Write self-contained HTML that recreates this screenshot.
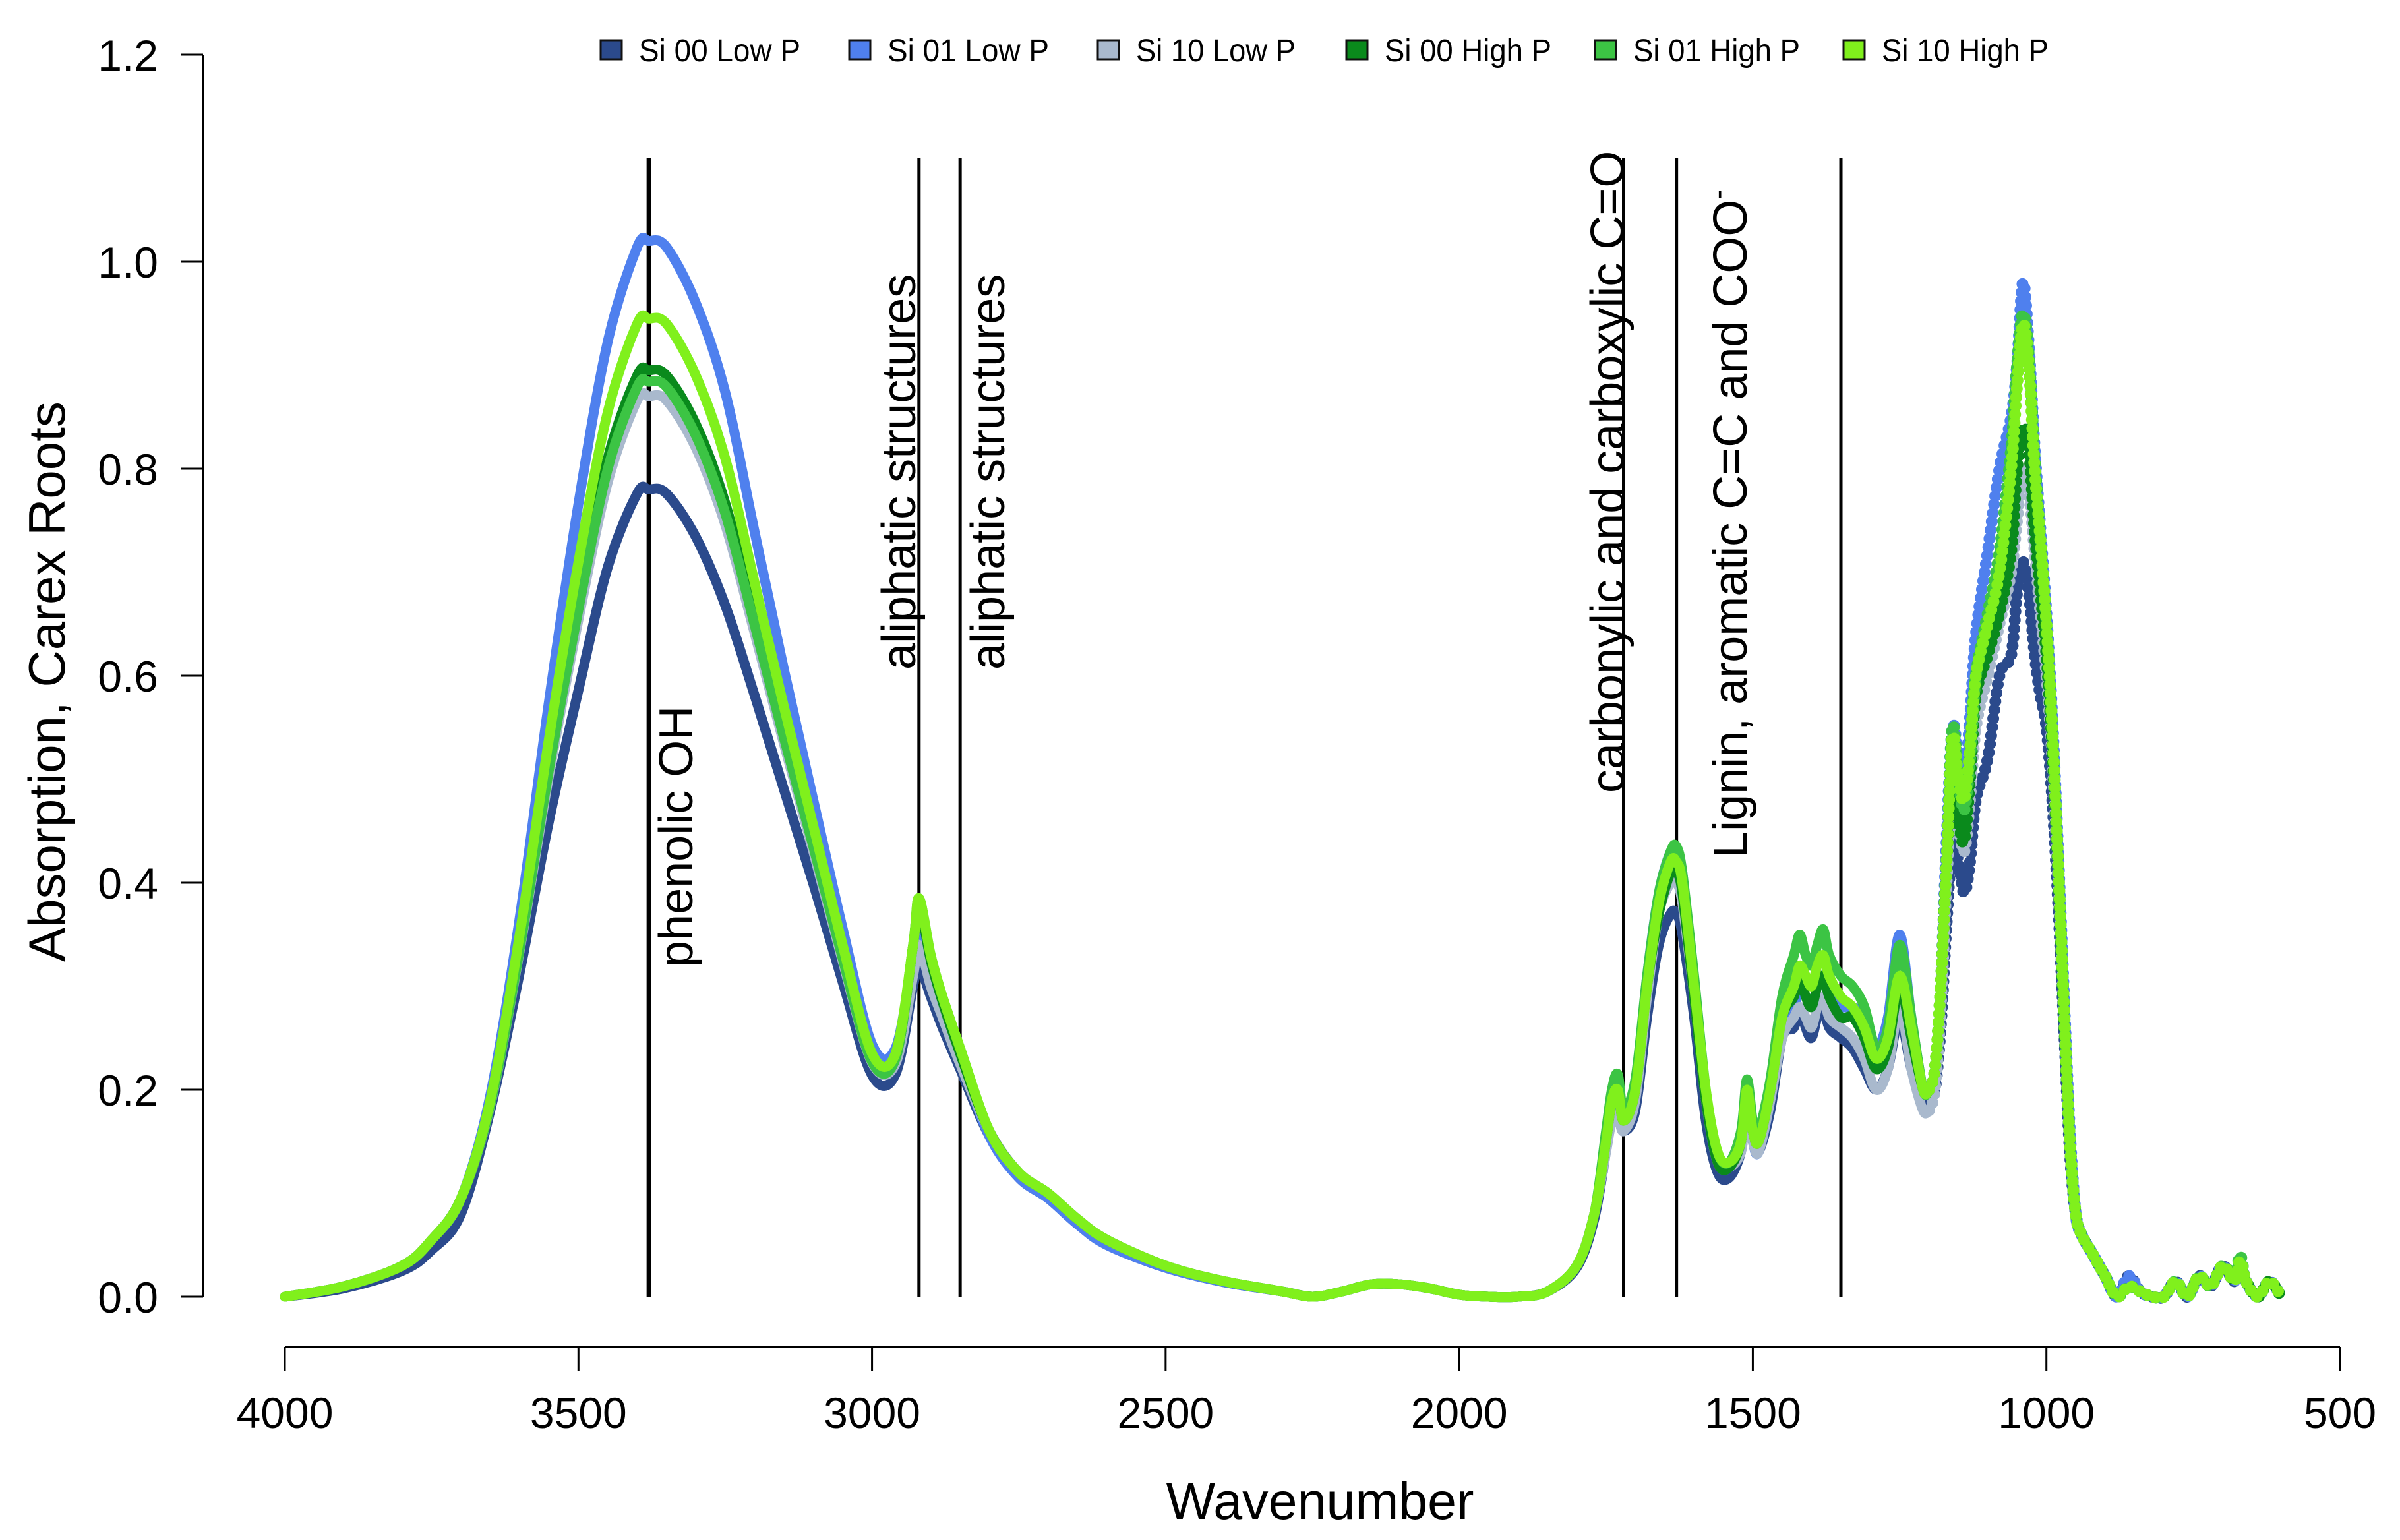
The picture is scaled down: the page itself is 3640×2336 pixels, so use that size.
<!DOCTYPE html>
<html><head><meta charset="utf-8"><style>
html,body{margin:0;padding:0;background:#fff;}
svg{display:block;font-family:"Liberation Sans",sans-serif;}
</style></head><body>
<svg id="chart" width="3640" height="2336" viewBox="0 0 3640 2336" xmlns="http://www.w3.org/2000/svg">
<g id="axes"></g>
<g id="annot-lines"></g>
<g id="series"></g>
<g id="annot-labels"></g>
<g id="legend"></g>
<text x="2002" y="2304" font-size="79" text-anchor="middle">Wavenumber</text>
<text x="0" y="0" font-size="78" text-anchor="middle" transform="translate(98,1034) rotate(-90)">Absorption, Carex Roots</text>
</svg>
<script>
const wavenumbers=[4000,3900,3800,3750,3700,3650,3600,3550,3500,3450,3400,3380,3350,3300,3250,3200,3150,3100,3050,3000,2960,2930,2920,2900,2880,2850,
2800,2750,2700,2650,2600,2500,2400,2300,2250,2200,2150,2100,2050,2000,1950,1900,1850,1800,
1770,1750,1740,1730,1720,1700,1680,1660,1640,1630,1620,1600,1580,1560,1540,1520,1510,1500,1490,1470,1450,1430,1420,1410,1400,1390,1380,1370,1350,1330,1310,1290,1270,1250,1230,1210,1200,
1190,1180,1170,1160,1150,1140,1130,1120,1100,1080,1060,1050,1040,1030,1020,1010,1000,990,980,970,960,950,940,920,900,880,860,840,820,800,780,760,740,720,700,680,670,660,640,620,600];
const si00Low=[0,.008,.025,.045,.08,.18,.313,.46,.586,.705,.776,.78,.776,.734,.668,.581,.49,.399,.304,.214,.215,.3,.32,.29,.26,.22,
.155,.115,.095,.07,.05,.028,.014,.005,0,.005,.012,.012,.008,.002,0,0,.005,.028,
.075,.14,.17,.175,.16,.18,.27,.34,.37,.37,.35,.27,.17,.12,.115,.14,.18,.15,.14,.18,.25,.26,.28,.26,.25,.27,.28,.26,.25,.24,.22,.2,.22,.27,.22,.19,.2,
.2,.26,.36,.44,.42,.39,.42,.48,.52,.6,.62,.68,.71,.68,.62,.58,.55,.48,.38,.26,.14,.08,.06,.04,.02,0,.02,.005,0,0,.015,0,.02,.01,.03,.015,.03,.015,0,.015,0];
const si01Low=[0,.01,.03,.055,.095,.195,.366,.576,.766,.923,1.014,1.02,1.014,.96,.874,.739,.606,.48,.356,.244,.24,.33,.35,.31,.27,.23,
.155,.115,.095,.07,.05,.028,.014,.005,0,.005,.012,.012,.008,.002,0,0,.005,.03,
.08,.15,.18,.19,.17,.2,.31,.39,.43,.43,.41,.3,.19,.13,.125,.15,.19,.15,.14,.19,.26,.28,.3,.29,.28,.3,.31,.29,.28,.28,.27,.24,.27,.35,.27,.2,.2,
.22,.3,.44,.55,.52,.5,.56,.64,.72,.8,.85,.9,.98,.92,.82,.74,.66,.56,.43,.29,.16,.08,.06,.04,.02,0,.02,.005,0,0,.015,0,.02,.01,.03,.015,.035,.015,0,.015,0];
const si10Low=[0,.01,.03,.055,.095,.185,.334,.504,.654,.787,.866,.87,.866,.82,.746,.641,.534,.43,.324,.226,.225,.31,.34,.3,.27,.225,
.16,.12,.1,.075,.055,.03,.015,.005,0,.005,.012,.012,.008,.002,0,0,.005,.03,
.08,.14,.17,.175,.16,.19,.29,.37,.4,.4,.38,.29,.19,.13,.125,.14,.18,.15,.14,.19,.25,.27,.28,.27,.26,.28,.29,.27,.26,.25,.23,.2,.22,.28,.22,.18,.18,
.2,.28,.4,.5,.46,.43,.48,.55,.6,.65,.7,.75,.8,.78,.72,.66,.6,.52,.4,.27,.15,.08,.06,.04,.02,0,.01,.005,0,0,.015,0,.02,.01,.03,.015,.03,.015,0,.015,0];
const si00High=[0,.01,.03,.055,.095,.187,.339,.516,.672,.81,.89,.895,.89,.843,.767,.657,.546,.438,.329,.229,.23,.34,.38,.325,.285,.235,
.16,.12,.1,.075,.055,.03,.015,.005,0,.005,.012,.012,.008,.002,0,0,.005,.03,
.08,.15,.19,.2,.17,.2,.3,.37,.41,.41,.39,.29,.19,.13,.125,.15,.2,.16,.15,.2,.27,.29,.31,.29,.28,.3,.31,.29,.27,.27,.25,.22,.24,.3,.25,.2,.2,
.22,.3,.42,.5,.46,.44,.5,.58,.62,.66,.72,.8,.84,.82,.74,.68,.62,.53,.41,.27,.15,.08,.06,.04,.02,0,.01,.005,0,0,.015,0,.02,.01,.03,.015,.03,.015,0,.015,0];
const si01High=[0,.01,.03,.055,.095,.186,.336,.51,.664,.8,.879,.884,.879,.832,.757,.649,.54,.435,.327,.227,.23,.34,.385,.33,.29,.24,
.16,.12,.1,.075,.055,.03,.015,.005,0,.005,.012,.012,.008,.002,0,0,.005,.03,
.08,.16,.2,.215,.18,.21,.31,.39,.43,.435,.41,.31,.2,.14,.13,.16,.21,.17,.16,.21,.29,.33,.35,.33,.32,.34,.355,.33,.31,.3,.28,.24,.26,.34,.27,.2,.2,
.22,.3,.42,.55,.5,.47,.52,.6,.66,.72,.82,.9,.95,.91,.81,.73,.65,.55,.42,.28,.15,.08,.06,.04,.02,0,.01,.005,0,0,.015,0,.02,.01,.03,.02,.04,.015,0,.015,0];
const si10High=[0,.01,.03,.055,.095,.19,.35,.54,.71,.855,.94,.945,.94,.89,.81,.69,.57,.455,.34,.235,.235,.34,.385,.33,.29,.24,
.16,.12,.1,.075,.055,.03,.015,.005,0,.005,.012,.012,.008,.002,0,0,.005,.03,
.08,.15,.19,.2,.17,.2,.3,.38,.42,.42,.4,.3,.2,.14,.13,.15,.2,.16,.15,.2,.27,.3,.32,.31,.3,.32,.33,.31,.29,.28,.26,.23,.25,.31,.26,.2,.2,
.22,.3,.42,.54,.5,.48,.53,.6,.65,.7,.8,.88,.94,.9,.8,.73,.65,.55,.42,.28,.15,.08,.06,.04,.02,0,.01,.005,0,0,.015,0,.02,.01,.03,.015,.035,.015,0,.015,0];
const seriesNames=["Si 00 Low P","Si 01 Low P","Si 10 Low P","Si 00 High P","Si 01 High P","Si 10 High P"];
const xTicks=[4000,3500,3000,2500,2000,1500,1000,500];
const yTicks=[0,0.2,0.4,0.6,0.8,1.0,1.2];
const yTickLabels=["0.0","0.2","0.4","0.6","0.8","1.0","1.2"];
const bandPositions=[3380,2920,2850,1720,1630,1350];
const bandLabels=["phenolic OH","aliphatic structures","aliphatic structures","carbonylic and carboxylic C=O","Lignin, aromatic C=C and COO",""];

const NS="http://www.w3.org/2000/svg";
const colors=["#2b4a8c","#4f80ee","#a9b9cd","#0a8a1c","#3cc444","#80f01c"];
const legendWidths=[245,245,242,253,253,253];
const X=w=>432+(4000-w)*(3549-432)/3500;
const Y=v=>1967-v*1570;
function mk(tag,parent,attrs){const e=document.createElementNS(NS,tag);for(const k in attrs)e.setAttribute(k,attrs[k]);parent.appendChild(e);return e;}
function smooth(pts){
  let d='M'+pts[0][0].toFixed(1)+','+pts[0][1].toFixed(1);
  for(let i=0;i<pts.length-1;i++){
    const p0=pts[i-1]||pts[i],p1=pts[i],p2=pts[i+1],p3=pts[i+2]||p2;
    const c1x=p1[0]+(p2[0]-p0[0])/6,c1y=p1[1]+(p2[1]-p0[1])/6;
    const c2x=p2[0]-(p3[0]-p1[0])/6,c2y=p2[1]-(p3[1]-p1[1])/6;
    d+=` C${c1x.toFixed(1)},${c1y.toFixed(1)} ${c2x.toFixed(1)},${c2y.toFixed(1)} ${p2[0].toFixed(1)},${p2[1].toFixed(1)}`;
  }
  return d;
}

const axes=document.getElementById('axes');
let e=mk('line',axes,{x1:308,y1:Y(1.2),x2:308,y2:Y(0),stroke:'#000','stroke-width':3});


yTicks.forEach((t,i)=>{
  let tk=mk('line',axes,{x1:275,y1:Y(t),x2:308,y2:Y(t),stroke:'#000','stroke-width':3});
  
  
  let tl=mk('text',axes,{x:240,y:Y(t)+24,'font-size':66,'text-anchor':'end'});
  tl.textContent=yTickLabels[i];
  
  
});
e=mk('line',axes,{x1:X(4000),y1:2043,x2:X(500),y2:2043,stroke:'#000','stroke-width':3});


xTicks.forEach(t=>{
  let tk=mk('line',axes,{x1:X(t),y1:2043,x2:X(t),y2:2080,stroke:'#000','stroke-width':3});
  
  
  let tl=mk('text',axes,{x:X(t),y:2166,'font-size':66,'text-anchor':'middle'});
  tl.textContent=String(t);
  
  
});

const al=document.getElementById('annot-lines');
bandPositions.forEach((b,i)=>{
  let l=mk('line',al,{x1:X(b),y1:239,x2:X(b),y2:Y(0),stroke:'#000','stroke-width':i===0?7:5});
  
  
});

const sg=document.getElementById('series');
const allSeries=[si00Low,si01Low,si10Low,si00High,si01High,si10High];
allSeries.forEach((s,si)=>{
  let solid=[],dotted=[];
  wavenumbers.forEach((w,i)=>{
    const p=[X(w),Y(s[i])];
    if(w>=1200)solid.push(p);
    if(w<=1200)dotted.push(p);
  });
  let a=mk('path',sg,{d:smooth(solid),fill:'none',stroke:colors[si],'stroke-width':15,'stroke-linejoin':'round','stroke-linecap':'round'});
  
  
  let b=mk('path',sg,{d:smooth(dotted),fill:'none',stroke:colors[si],'stroke-width':18,'stroke-linecap':'round','stroke-dasharray':'0 13'});
  
  
});

const lab=document.getElementById('annot-labels');
const labelPos=[[1050,1467],[1388,1016],[1523,1016],[2463,1203],[2649,1301]];
labelPos.forEach((p,i)=>{
  let t=mk('text',lab,{x:0,y:0,'font-size':72,transform:`translate(${p[0]},${p[1]}) rotate(-90)`});
  t.textContent=bandLabels[i];
  if(i===4){let sp=mk('tspan',t,{dy:-28,'font-size':46});sp.textContent='-';}
  
  
});

const lg=document.getElementById('legend');
seriesNames.forEach((n,i)=>{
  const bx=911+i*377;
  let g=mk('g',lg,{});
  
  
  let r=mk('rect',g,{x:bx,y:61,width:32,height:29,fill:colors[i],stroke:'#111','stroke-width':3});
  
  
  let t=mk('text',g,{x:bx+58,y:93,'font-size':48,textLength:legendWidths[i],lengthAdjust:'spacingAndGlyphs'});
  t.textContent=n;
  
  
});
</script>
</body></html>
